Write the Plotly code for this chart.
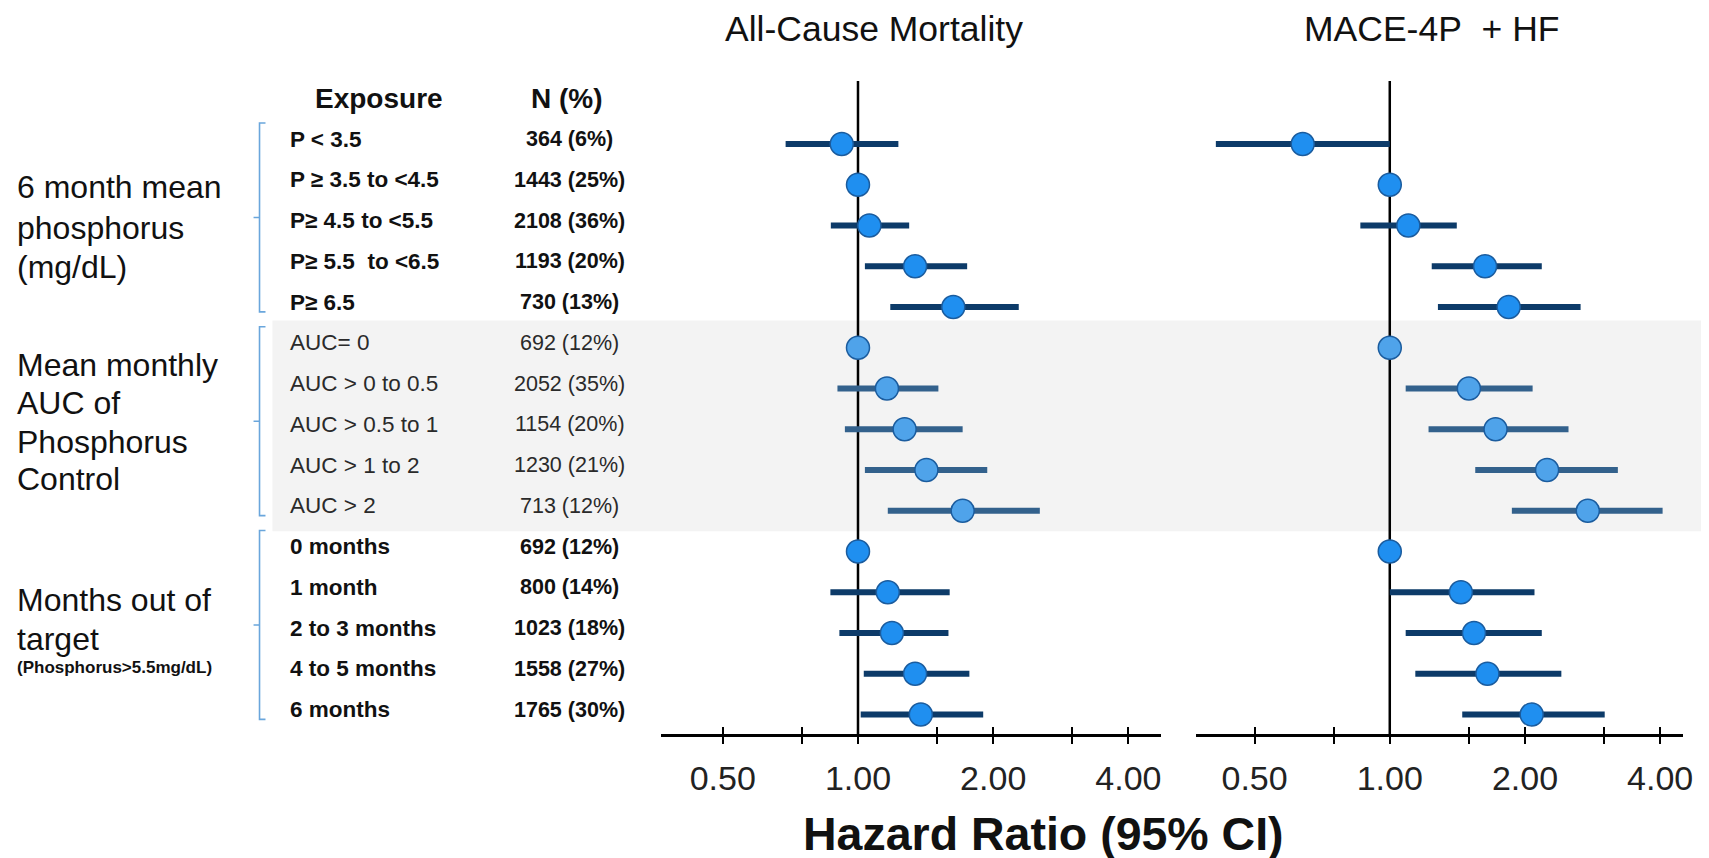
import math
import plotly.graph_objects as go

# ---------------- data ----------------
exposure = ["P < 3.5", "P \u2265 3.5 to <4.5", "P\u2265 4.5 to <5.5", "P\u2265 5.5  to <6.5", "P\u2265 6.5",
            "AUC= 0", "AUC > 0 to 0.5", "AUC > 0.5 to 1", "AUC > 1 to 2", "AUC > 2",
            "0 months", "1 month", "2 to 3 months", "4 to 5 months", "6 months"]
n_pct = ["364 (6%)", "1443 (25%)", "2108 (36%)", "1193 (20%)", "730 (13%)",
         "692 (12%)", "2052 (35%)", "1154 (20%)", "1230 (21%)", "713 (12%)",
         "692 (12%)", "800 (14%)", "1023 (18%)", "1558 (27%)", "1765 (30%)"]

hr_acm = [0.92, 1.00, 1.06, 1.34, 1.63, 1.00, 1.16, 1.27, 1.42, 1.71, 1.00, 1.165, 1.19, 1.34, 1.38]
lo_acm = [0.69, 1.00, 0.87, 1.036, 1.18, 1.00, 0.90, 0.935, 1.036, 1.165, 1.00, 0.868, 0.909, 1.03, 1.014]
hi_acm = [1.23, 1.00, 1.30, 1.75, 2.28, 1.00, 1.51, 1.71, 1.94, 2.54, 1.00, 1.60, 1.59, 1.77, 1.90]

hr_mace = [0.64, 1.00, 1.10, 1.63, 1.84, 1.00, 1.50, 1.72, 2.24, 2.76, 1.00, 1.44, 1.54, 1.65, 2.07]
lo_mace = [0.41, 1.00, 0.86, 1.24, 1.28, 1.00, 1.085, 1.22, 1.55, 1.87, 1.00, 1.00, 1.085, 1.14, 1.45]
hi_mace = [1.00, 1.00, 1.41, 2.18, 2.66, 1.00, 2.08, 2.50, 3.22, 4.05, 1.00, 2.10, 2.18, 2.41, 3.01]

groups = [(0, 5), (5, 10), (10, 15)]
group_labels = [
    ["6 month mean", "phosphorus", "(mg/dL)"],
    ["Mean monthly", "AUC of", "Phosphorus", "Control"],
    ["Months out of", "target"],
]
small_label = "(Phosphorus>5.5mg/dL)"

tick_vals = [0.5, 0.75, 1, 1.5, 2, 3, 4]
tick_text = ["0.50", "", "1.00", "", "2.00", "", "4.00"]

panel_titles = ["All-Cause Mortality", "MACE-4P\u00a0 + HF"]
x_title = "Hazard Ratio (95% CI)"

# ---------------- layout helpers ----------------
W, H = 1709, 858
FONT = "Liberation Sans, Arial, Helvetica, sans-serif"
ROW0, ROWH = 136.0, 40.75
AXIS_Y, TOP_Y = 726, 73


def px_x(p):
    return p / W


def px_y(p):
    return 1 - p / H


def row_at(p):
    return 1 + (p - ROW0) / ROWH


rows = list(range(1, 16))
TXT = 5 / ROWH  # text sits slightly above the marker row

# pixel centres of the group label lines (layout only)
group_label_px = [[179, 219.5, 259], [357, 395, 434, 471], [592, 630.5]]
small_label_px = 659.5

main_fill = ["#1f8ff0", "#4fa3ea", "#1f8ff0"]
main_line = ["#0d3b69", "#33618c", "#0d3b69"]
outline = "#1b5c9e"

fig = go.Figure()

for axis, hr, lo, hi in [("x", hr_acm, lo_acm, hi_acm), ("x2", hr_mace, lo_mace, hi_mace)]:
    for gi, (a, b) in enumerate(groups):
        xs = hr[a:b]
        plus = [h - v for h, v in zip(hi[a:b], xs)]
        minus = [v - l for v, l in zip(xs, lo[a:b])]
        fig.add_trace(go.Scatter(
            x=xs, y=rows[a:b], xaxis=axis, yaxis="y", mode="markers",
            marker=dict(size=23, color=main_fill[gi], line=dict(color=outline, width=1.5)),
            error_x=dict(type="data", symmetric=False, array=plus, arrayminus=minus,
                         color=main_line[gi], thickness=6, width=0),
            showlegend=False, hoverinfo="skip"))

# invisible traces for overlay tick axes (ticks crossing the axis line)
for axis in ["x3", "x4"]:
    fig.add_trace(go.Scatter(x=[1], y=[1], xaxis=axis, yaxis="y", mode="markers",
                             marker=dict(opacity=0), showlegend=False, hoverinfo="skip"))

L_ONE, R_ONE, PPD = 855.0, 1389.9, 136.0
dom_l_px = [657, 1160]
dom_r_px = [1194.5, 1685]
xrange_l = [math.log10(2 ** ((dom_l_px[0] - L_ONE) / PPD)), math.log10(2 ** ((dom_l_px[1] - L_ONE) / PPD))]
xrange_r = [math.log10(2 ** ((dom_r_px[0] - R_ONE) / PPD)), math.log10(2 ** ((dom_r_px[1] - R_ONE) / PPD))]
dom_l = [px_x(dom_l_px[0]), px_x(dom_l_px[1])]
dom_r = [px_x(dom_r_px[0]), px_x(dom_r_px[1])]

axis_common = dict(type="log", tickmode="array", tickvals=tick_vals, ticktext=tick_text,
                   showgrid=False, zeroline=False, showline=True, linecolor="black", linewidth=2.5,
                   ticks="outside", ticklen=7, tickwidth=1.5, tickcolor="black",
                   ticklabelstandoff=5,
                   tickfont=dict(family=FONT, size=34, color="#222"), anchor="y")
overlay_common = dict(type="log", tickmode="array", tickvals=tick_vals, showticklabels=False,
                      showgrid=False, zeroline=False, showline=False,
                      ticks="inside", ticklen=7, tickwidth=1.5, tickcolor="black", anchor="y")

fig.update_layout(
    width=W, height=H, margin=dict(l=0, r=0, t=0, b=0),
    paper_bgcolor="white", plot_bgcolor="rgba(0,0,0,0)",
    showlegend=False,
    xaxis=dict(domain=dom_l, range=xrange_l, **axis_common),
    xaxis2=dict(domain=dom_r, range=xrange_r, **axis_common),
    xaxis3=dict(overlaying="x", range=xrange_l, **overlay_common),
    xaxis4=dict(overlaying="x2", range=xrange_r, **overlay_common),
    yaxis=dict(domain=[px_y(AXIS_Y), px_y(TOP_Y)], range=[row_at(AXIS_Y), row_at(TOP_Y)],
               visible=False, showgrid=False, zeroline=False),
)

shapes = []
# gray band behind the AUC group
shapes.append(dict(type="rect", xref="paper", yref="y", x0=px_x(266), x1=1, y0=5.33, y1=10.5,
                   fillcolor="#f3f3f3", line=dict(width=0), layer="below"))
# reference lines at HR = 1
for ax in ["x", "x2"]:
    shapes.append(dict(type="line", xref=ax, yref="y domain", x0=1, x1=1, y0=0, y1=1,
                       line=dict(color="black", width=2.5), layer="below"))
# brackets
bx = px_x(253)
hook = px_x(6)
for (a, b) in groups:
    top = (a + 1) - 0.515
    bot = b + 0.12
    mid = (top + bot) / 2
    path = (f"M {bx + hook},{top} L {bx},{top} L {bx},{bot} L {bx + hook},{bot} "
            f"M {bx},{mid} L {bx - hook},{mid}")
    shapes.append(dict(type="path", xref="paper", yref="y", path=path,
                       line=dict(color="#6aa6dc", width=1.6)))
fig.update_layout(shapes=shapes)

ann = []
for i, t in enumerate(panel_titles):
    ann.append(dict(text=t, xref="paper", yref="paper", x=px_x([871, 1432][i]), y=1.0,
                    xanchor="center", yanchor="top", showarrow=False, borderpad=0,
                    font=dict(family=FONT, size=35.5, color="#111")))
ann.append(dict(text="<b>Exposure</b>", xref="paper", yref="paper", x=px_x(373), y=px_y(90.5),
                xanchor="center", yanchor="middle", showarrow=False,
                font=dict(family=FONT, size=28, color="#111")))
ann.append(dict(text="<b>N (%)</b>", xref="paper", yref="paper", x=px_x(562), y=px_y(90.5),
                xanchor="center", yanchor="middle", showarrow=False,
                font=dict(family=FONT, size=28, color="#111")))
for i in range(15):
    in_band = 5 <= i < 10
    lab = exposure[i] if in_band else f"<b>{exposure[i]}</b>"
    nl = n_pct[i] if in_band else f"<b>{n_pct[i]}</b>"
    col = "#2a2a2a" if in_band else "#111"
    ann.append(dict(text=lab, xref="paper", yref="y", x=px_x(282), y=rows[i] - TXT,
                    xanchor="left", yanchor="middle", showarrow=False,
                    font=dict(family=FONT, size=22.5, color=col)))
    ann.append(dict(text=nl, xref="paper", yref="y", x=px_x(565), y=rows[i] - TXT,
                    xanchor="center", yanchor="middle", showarrow=False,
                    font=dict(family=FONT, size=21.5, color=col)))
for lines, pys in zip(group_labels, group_label_px):
    for t, py in zip(lines, pys):
        ann.append(dict(text=t, xref="paper", yref="y", x=px_x(7.5), y=row_at(py),
                        xanchor="left", yanchor="middle", showarrow=False,
                        font=dict(family=FONT, size=32, color="#111")))
ann.append(dict(text=f"<b>{small_label}</b>", xref="paper", yref="y", x=px_x(7.5), y=row_at(small_label_px),
                xanchor="left", yanchor="middle", showarrow=False,
                font=dict(family=FONT, size=17, color="#111")))
ann.append(dict(text=f"<b>{x_title}</b>", xref="paper", yref="paper", x=px_x(1042), y=px_y(826),
                xanchor="center", yanchor="middle", showarrow=False,
                font=dict(family=FONT, size=46.5, color="#111")))
fig.update_layout(annotations=ann)

fig.write_html("out.html")
